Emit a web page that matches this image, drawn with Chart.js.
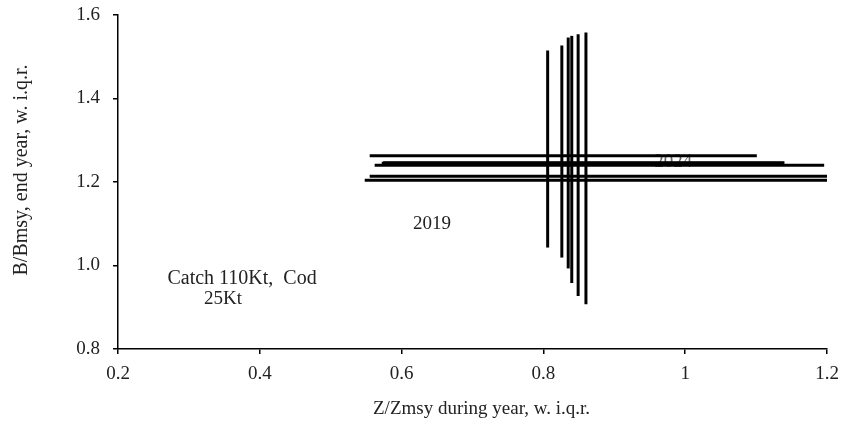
<!DOCTYPE html>
<html>
<head>
<meta charset="utf-8">
<script src="https://cdn.jsdelivr.net/npm/chart.js@4/dist/chart.umd.min.js"></script>
<style>
  html, body { margin: 0; padding: 0; background: #fff; }
  #wrap { width: 849px; height: 432px; }
</style>
</head>
<body>
<div id="wrap"><canvas id="c" width="849" height="432"></canvas></div>
<script>
// Years of the projection
const years = [2019, 2020, 2021, 2022, 2023, 2024];
// Z/Zmsy: median with inter-quartile range
const zMed = [0.806, 0.826, 0.835, 0.840, 0.849, 0.860];
const zLo  = [0.555, 0.574, 0.572, 0.562, 0.555, 0.548];
const zHi  = [1.101, 1.140, 1.138, 1.196, 1.200, 1.200];
// B/Bmsy at end of year: median with inter-quartile range
const bMed = [1.263, 1.246, 1.245, 1.240, 1.214, 1.204];
const bLo  = [1.043, 1.019, 0.993, 0.958, 0.927, 0.907];
const bHi  = [1.515, 1.527, 1.546, 1.550, 1.554, 1.558];
// Axis ticks
const xTicks = [0.2, 0.4, 0.6, 0.8, 1.0, 1.2];
const yTicks = [0.8, 1.0, 1.2, 1.4, 1.6];
// Axis titles
const xTitle = 'Z/Zmsy during year, w. i.q.r.';
const yTitle = 'B/Bmsy, end year, w. i.q.r.';
// Text notes placed in data coordinates
const notes = [
  { text: '2019', x: 0.643, y: 1.099, color: '#222' },
  { text: '2024', x: 0.983, y: 1.248, color: '#666' },
  { text: 'Catch 110Kt,  Cod', x: 0.375, y: 0.968, color: '#222' },
  { text: '25Kt', x: 0.348, y: 0.919, color: '#222' }
];

const FONT = '"Liberation Serif", "DejaVu Serif", serif';

const datasets = [];
years.forEach((yr, i) => {
  datasets.push({
    label: yr + ' Z',
    data: [{ x: zLo[i], y: bMed[i] }, { x: zHi[i], y: bMed[i] }],
    showLine: true, borderColor: '#000', borderWidth: 3, pointRadius: 0,
    borderCapStyle: 'butt', clip: false
  });
  datasets.push({
    label: yr + ' B',
    data: [{ x: zMed[i], y: bLo[i] }, { x: zMed[i], y: bHi[i] }],
    showLine: true, borderColor: '#000', borderWidth: 3, pointRadius: 0,
    borderCapStyle: 'butt', clip: false
  });
});

// Year / catch notes under the lines, plus the two axis titles
const notesPlugin = {
  id: 'notes',
  beforeDatasetsDraw(chart) {
    const { ctx, scales } = chart;
    ctx.save();
    ctx.textAlign = 'center';
    ctx.textBaseline = 'middle';
    notes.forEach(n => {
      ctx.font = (n.text.length > 4 ? '20px ' : '19px ') + FONT;
      ctx.fillStyle = n.color;
      ctx.fillText(n.text, scales.x.getPixelForValue(n.x), scales.y.getPixelForValue(n.y));
    });
    ctx.fillStyle = '#222';
    ctx.font = '19px ' + FONT;
    ctx.fillText(xTitle, (scales.x.left + scales.x.right) / 2 + 9, 409);
    ctx.translate(22, 170);
    ctx.rotate(-Math.PI / 2);
    ctx.font = '20px ' + FONT;
    ctx.fillText(yTitle, 0, 0);
    ctx.restore();
  }
};

new Chart(document.getElementById('c'), {
  type: 'scatter',
  data: { datasets },
  options: {
    responsive: false,
    animation: false,
    devicePixelRatio: 1,
    layout: { padding: { left: 0, right: 22, top: 15, bottom: 0 } },
    plugins: { legend: { display: false }, tooltip: { enabled: false } },
    scales: {
      x: {
        type: 'linear', min: 0.2, max: 1.2,
        afterBuildTicks(s) { s.ticks = xTicks.map(v => ({ value: v })); },
        afterFit(s) { s.height = 83; s.paddingLeft = 0; s.paddingRight = 0; },
        ticks: {
          padding: 9, color: '#222',
          font: { family: FONT, size: 19 },
          callback: v => String(Number(v.toFixed(1)))
        },
        grid: { drawOnChartArea: false, drawTicks: true, tickLength: 5, color: '#000', lineWidth: 1.5 },
        border: { display: true, color: '#000', width: 1.5 }
      },
      y: {
        type: 'linear', min: 0.8, max: 1.6,
        afterBuildTicks(s) { s.ticks = yTicks.map(v => ({ value: v })); },
        afterFit(s) { s.width = 118; s.paddingTop = 0; s.paddingBottom = 0; },
        ticks: {
          padding: 13, color: '#222',
          font: { family: FONT, size: 19 },
          callback: v => v.toFixed(1)
        },
        grid: { drawOnChartArea: false, drawTicks: true, tickLength: 5, color: '#000', lineWidth: 1.5 },
        border: { display: true, color: '#000', width: 1.5 }
      }
    }
  },
  plugins: [notesPlugin]
});
</script>
</body>
</html>
